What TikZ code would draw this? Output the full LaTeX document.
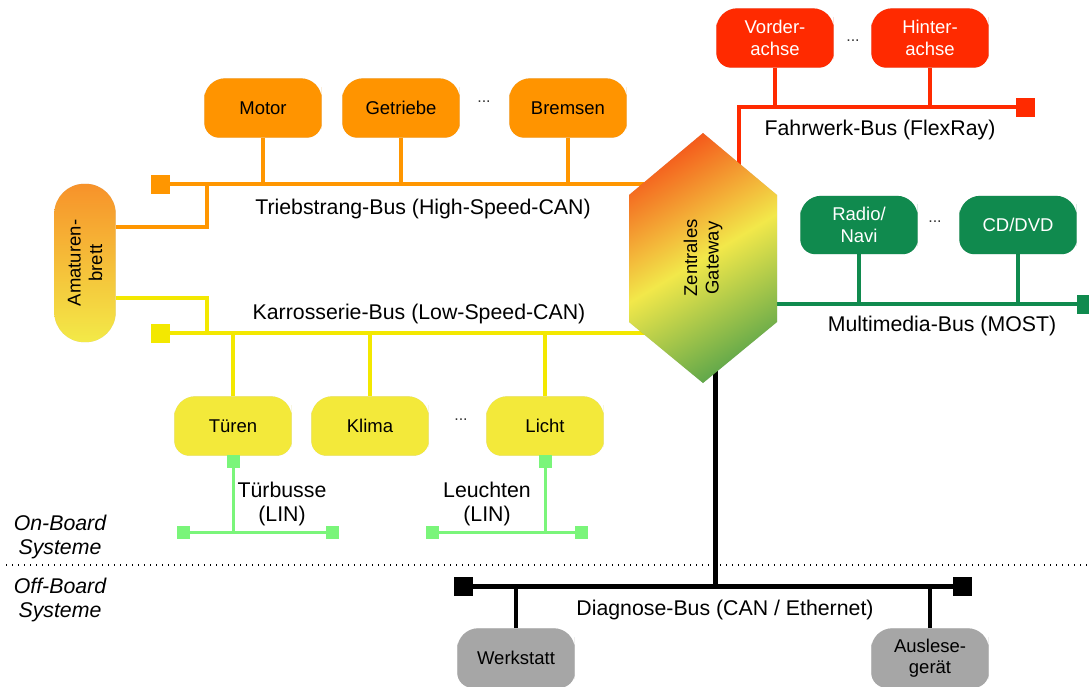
\documentclass[tikz,border=0pt]{standalone}
\usepackage{fontspec}
\setmainfont{Liberation Sans}
\usetikzlibrary{calc}

\definecolor{busOrange}{RGB}{255,150,0}
\definecolor{ecuOrange}{RGB}{255,148,0}
\definecolor{busYellow}{RGB}{243,232,0}
\definecolor{ecuYellow}{RGB}{243,233,58}
\definecolor{busRed}{RGB}{255,42,0}
\definecolor{busGreen}{RGB}{16,138,78}
\definecolor{ecuGray}{RGB}{166,166,166}
\definecolor{linGreen}{RGB}{122,245,122}
\definecolor{gwOrange}{RGB}{244,92,28}
\definecolor{gwYellow}{RGB}{242,232,74}
\definecolor{gwGreen}{RGB}{98,168,74}
\definecolor{dashTop}{RGB}{247,146,42}
\definecolor{dashBottom}{RGB}{243,234,72}

\pgfdeclarelayer{wires}
\pgfdeclarelayer{boxes}
\pgfsetlayers{wires,boxes,main}

\newcommand\ecufont{\fontsize{18.5}{21.5}\selectfont}
\newcommand\busfont{\fontsize{21.3}{24.5}\selectfont}

\tikzset{
  ecubox/.style={inner sep=0pt, align=center, font=\ecufont,
                 minimum width=117pt, minimum height=59pt},
  buslabel/.style={inner sep=0pt, align=center, font=\busfont},
  bus/.style={line width=4pt},
  diagbus/.style={line width=5pt, black},
  linbus/.style={line width=3pt, linGreen},
  termbox/.style={inner sep=0pt, minimum size=19pt},
  linbox/.style={inner sep=0pt, minimum size=13pt, fill=linGreen},
  dots/.style={inner sep=0pt, font=\fontsize{16}{16}\selectfont, text=black!80},
  shadowfill/.style={black, opacity=.18, xshift=0.8pt, yshift=-2.2pt},
}

% ECU body: rounder corners on top than at the bottom, with a soft shadow
\newcommand\ecushape[2]{%
  \begin{pgfonlayer}{boxes}
    \fill[shadowfill]
      (#1.west) [rounded corners=21pt] |- (#1.north) -| (#1.east)
      [rounded corners=15pt] |- (#1.south) -| (#1.west) -- cycle;
    \fill[#2]
      (#1.west) [rounded corners=21pt] |- (#1.north) -| (#1.east)
      [rounded corners=15pt] |- (#1.south) -| (#1.west) -- cycle;
  \end{pgfonlayer}}

\begin{document}
\begin{tikzpicture}[x=1pt, y=-1pt]
\useasboundingbox (0,0) rectangle (1089,686);

% ---------- control units ----------
\node[ecubox] (motor)    at (263,108) {Motor};
\node[ecubox] (getriebe) at (401,108) {Getriebe};
\node[ecubox] (bremsen)  at (568,108) {Bremsen};
\node[dots]   (dotsA)    at (484,102) {...};

\node[ecubox] (tueren) at (233,426) {Türen};
\node[ecubox] (klima)  at (370,426) {Klima};
\node[ecubox] (licht)  at (545,426) {Licht};
\node[dots]   (dotsB)  at (461,420) {...};

\node[ecubox, text=white] (vorder) at (775,38) {Vorder-\\achse};
\node[ecubox, text=white] (hinter) at (930,38) {Hinter-\\achse};
\node[dots]   (dotsC)  at (853,41) {...};

\node[ecubox, text=white, minimum height=58pt] (radio) at (859,225) {Radio/\\Navi};
\node[ecubox, text=white, minimum height=58pt] (cddvd) at (1018,225) {CD/DVD};
\node[dots]   (dotsD)  at (935,222) {...};

\node[ecubox] (werkstatt) at (516,658) {Werkstatt};
\node[ecubox] (auslese)   at (930,658) {Auslese-\\gerät};

\node[inner sep=0pt, align=center, font=\ecufont, rotate=90,
      minimum width=158pt, minimum height=61pt] (dash) at (85,263) {Amaturen-\\brett};

\node[inner sep=0pt, align=center, font=\ecufont, rotate=90] (gw) at (703,258) {Zentrales\\Gateway};

% ---------- bus terminators ----------
\node[termbox, fill=busOrange] (tbL) at (160,184) {};
\node[termbox, fill=busYellow] (kbL) at (160,333) {};
\node[termbox, fill=busRed]    (fbR) at (1025,107) {};
\node[termbox, fill=busGreen]  (mbR) at (1086,304) {};
\node[termbox, fill=black]     (dbL) at (463,586) {};
\node[termbox, fill=black]     (dbR) at (962,586) {};

\node[linbox] (lin1T) at (233,461) {};
\node[linbox] (lin1L) at (183,532) {};
\node[linbox] (lin1R) at (332,532) {};
\node[linbox] (lin2T) at (545,461) {};
\node[linbox] (lin2L) at (432,532) {};
\node[linbox] (lin2R) at (581,532) {};

\coordinate (tbJ) at (207,184);
\coordinate (kbJ) at (207,333);
\coordinate (fbJ) at (739,107);
\coordinate (dbJ) at (715,586);
\coordinate (sepL) at (6,565);
\coordinate (sepR) at (1089,565);

% ---------- bodies ----------
\ecushape{motor}{ecuOrange}
\ecushape{getriebe}{ecuOrange}
\ecushape{bremsen}{ecuOrange}
\ecushape{tueren}{ecuYellow}
\ecushape{klima}{ecuYellow}
\ecushape{licht}{ecuYellow}
\ecushape{vorder}{busRed}
\ecushape{hinter}{busRed}
\ecushape{radio}{busGreen}
\ecushape{cddvd}{busGreen}
\ecushape{werkstatt}{ecuGray}
\ecushape{auslese}{ecuGray}

\begin{pgfonlayer}{boxes}
  \fill[shadowfill, rounded corners=30pt] (dash.north west) rectangle (dash.south east);
  \shade[top color=dashTop, bottom color=dashBottom, rounded corners=30pt]
    (dash.north west) rectangle (dash.south east);

  \coordinate (gwN)  at ($(gw.center)+(0,-125)$);
  \coordinate (gwNE) at ($(gw.center)+(74,-63)$);
  \coordinate (gwSE) at ($(gw.center)+(74,64)$);
  \coordinate (gwS)  at ($(gw.center)+(0,125)$);
  \coordinate (gwSW) at ($(gw.center)+(-74,64)$);
  \coordinate (gwNW) at ($(gw.center)+(-74,-63)$);
  \fill[shadowfill] (gwN) -- (gwNE) -- (gwSE) -- (gwS) -- (gwSW) -- (gwNW) -- cycle;
  \shade[top color=gwOrange, bottom color=gwGreen, middle color=gwYellow, shading angle=31]
    (gwN) -- (gwNE) -- (gwSE) -- (gwS) -- (gwSW) -- (gwNW) -- cycle;
\end{pgfonlayer}

% ---------- bus lines ----------
\begin{pgfonlayer}{wires}
  % Triebstrang-Bus
  \draw[bus, busOrange] (tbL.center) -- (tbL.center -| gw.center);
  \foreach \n in {motor,getriebe,bremsen}
    \draw[bus, busOrange] (\n.south) -- (\n.south |- tbL.center);
  \draw[bus, busOrange] ([yshift=36pt]dash.south) -| (tbJ);

  % Karrosserie-Bus
  \draw[bus, busYellow] (kbL.center) -- (kbL.center -| gw.center);
  \foreach \n in {tueren,klima,licht}
    \draw[bus, busYellow] (\n.north) -- (\n.north |- kbL.center);
  \draw[bus, busYellow] ([yshift=-35pt]dash.south) -| (kbJ);

  % Fahrwerk-Bus
  \draw[bus, busRed] (fbR.center) -- (fbJ) -- (fbJ |- gw.center);
  \foreach \n in {vorder,hinter}
    \draw[bus, busRed] (\n.south) -- (\n.south |- fbR.center);

  % Multimedia-Bus
  \draw[bus, busGreen] (gw.center |- mbR.center) -- (mbR.center);
  \foreach \n in {radio,cddvd}
    \draw[bus, busGreen] (\n.south) -- (\n.south |- mbR.center);

  % Diagnose-Bus
  \draw[diagbus] (dbL.center) -- (dbR.center);
  \draw[diagbus] (dbJ |- gw.center) -- (dbJ);
  \foreach \n in {werkstatt,auslese}
    \draw[line width=4.5pt] (\n.north) -- (\n.north |- dbL.center);

  % LIN sub-buses
  \draw[linbus] (tueren.south) -- (tueren.south |- lin1L.center);
  \draw[linbus] (lin1L.center) -- (lin1R.center);
  \draw[linbus] (licht.south) -- (licht.south |- lin2L.center);
  \draw[linbus] (lin2L.center) -- (lin2R.center);
\end{pgfonlayer}

% on-board / off-board separator
\draw[line width=1.4pt, dash pattern=on 1.4pt off 4.6pt] (sepL) -- (sepR);

% ---------- labels ----------
\node[buslabel] (lblTrieb) at (423,209) {Triebstrang-Bus (High-Speed-CAN)};
\node[buslabel] (lblKaro)  at (419,314) {Karrosserie-Bus (Low-Speed-CAN)};
\node[buslabel] (lblFahr)  at (880,130) {Fahrwerk-Bus (FlexRay)};
\node[buslabel] (lblMM)    at (942,326) {Multimedia-Bus (MOST)};
\node[buslabel] (lblDiag)  at (725,610) {Diagnose-Bus (CAN / Ethernet)};
\node[buslabel] (lblLin1)  at (282,504) {Türbusse\\(LIN)};
\node[buslabel] (lblLin2)  at (487,504) {Leuchten\\(LIN)};
\node[buslabel, font=\busfont\itshape] (lblOn)  at (60,537) {On-Board\\Systeme};
\node[buslabel, font=\busfont\itshape] (lblOff) at (60,600) {Off-Board\\Systeme};

\end{tikzpicture}
\end{document}
